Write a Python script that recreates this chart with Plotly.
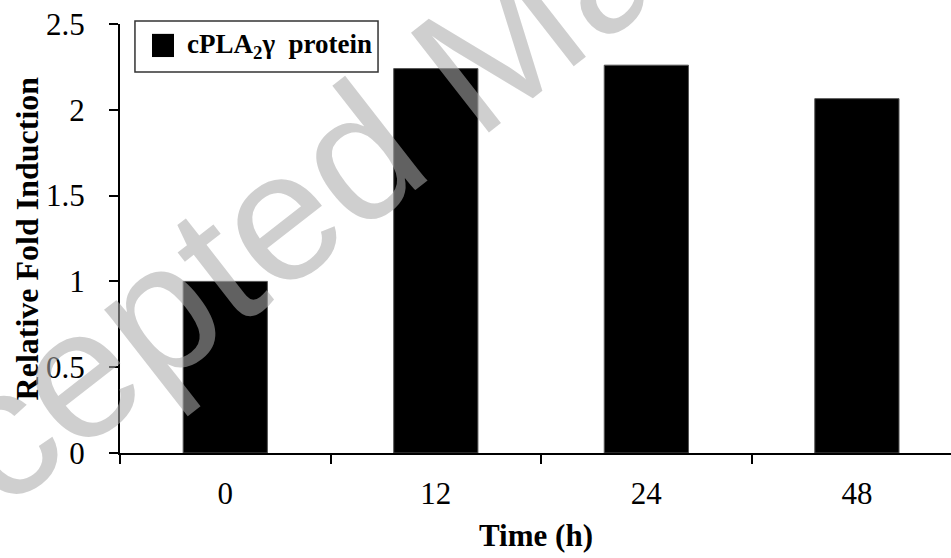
import plotly.graph_objects as go

# Data
categories = ["0", "12", "24", "48"]
fold_induction = [1.0, 2.24, 2.26, 2.065]
series_name = "<b>cPLA<sub>2</sub>γ  protein</b>"
y_ticks = [0, 0.5, 1, 1.5, 2, 2.5]
y_tick_labels = ["0", "0.5", "1", "1.5", "2", "2.5"]

serif = "Liberation Serif, Times New Roman, serif"

fig = go.Figure()
fig.add_trace(go.Bar(
    x=categories, y=fold_induction, name=series_name,
    marker=dict(color="#000000", line=dict(color="#555555", width=1)),
    width=0.4, showlegend=False,
))

fig.update_layout(
    width=951, height=558,
    margin=dict(l=120, r=0, t=24, b=105),
    paper_bgcolor="white", plot_bgcolor="white",
    showlegend=False,
    font=dict(family=serif, color="black"),
)

fig.update_xaxes(
    type="category", range=[-0.5, 3.447],
    showline=True, linecolor="black", linewidth=2,
    ticks="outside", ticklen=9, tickwidth=2, tickcolor="black",
    tickson="boundaries",
    tickfont=dict(family=serif, size=31, color="black"),
    ticklabelstandoff=12,
    showgrid=False, zeroline=False,
)
fig.update_yaxes(
    range=[0, 2.5], tickvals=y_ticks, ticktext=y_tick_labels,
    showline=True, linecolor="black", linewidth=2,
    ticks="outside", ticklen=9, tickwidth=2, tickcolor="black",
    tickfont=dict(family=serif, size=31, color="black"),
    ticklabelstandoff=18,
    showgrid=False, zeroline=False,
)

# Axis titles
fig.add_annotation(
    text="<b>Relative Fold Induction</b>", xref="paper", yref="paper",
    x=-0.112, y=0.5, xanchor="center", yanchor="middle", textangle=-90,
    showarrow=False, font=dict(family=serif, size=32, color="black"),
)
fig.add_annotation(
    text="<b>Time (h)</b>", xref="paper", yref="paper",
    x=0.5, y=-0.193, xanchor="center", yanchor="middle",
    showarrow=False, font=dict(family=serif, size=31, color="black"),
)

# Legend (drawn manually)
fig.add_shape(type="rect", xref="paper", yref="paper",
              x0=0.018, x1=0.3105, y0=0.888, y1=1.007,
              line=dict(color="#333333", width=1.5), fillcolor="white", layer="above")
fig.add_shape(type="rect", xref="paper", yref="paper",
              x0=0.0385, x1=0.065, y0=0.923, y1=0.977,
              line=dict(color="black", width=0), fillcolor="black", layer="above")
fig.add_annotation(
    text=series_name, xref="paper", yref="paper",
    x=0.078, y=0.949, xanchor="left", yanchor="middle",
    showarrow=False, font=dict(family=serif, size=27, color="black"),
)

# Watermark
fig.add_annotation(
    text="Accepted Manuscript", xref="paper", yref="paper",
    x=0.4215, y=0.901, xanchor="center", yanchor="middle", textangle=-38,
    showarrow=False,
    font=dict(family="Liberation Sans, Arial, sans-serif", size=184,
              color="rgba(171,171,171,0.57)"),
)

fig.write_html("out.html", config={"displayModeBar": False},
               post_script="document.body.style.margin='0px';")
